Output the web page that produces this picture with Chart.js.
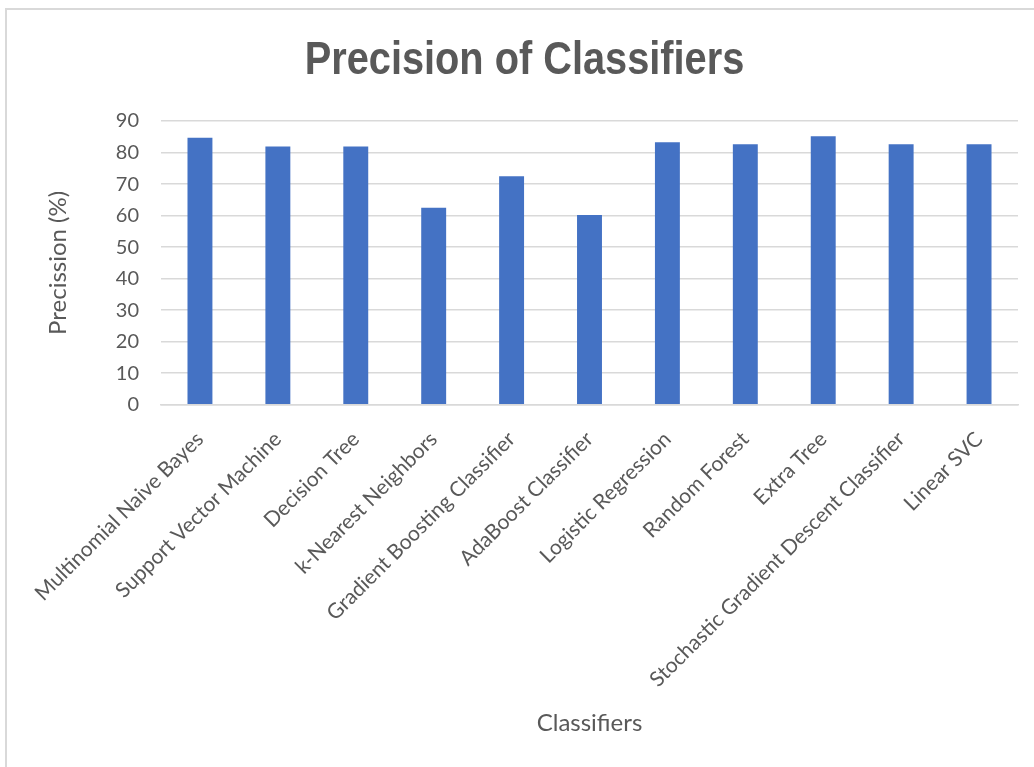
<!DOCTYPE html>
<html>
<head>
<meta charset="utf-8">
<title>Precision of Classifiers</title>
<script src="https://cdn.jsdelivr.net/npm/chart.js@4/dist/chart.umd.min.js"></script>
<style>
  html, body { margin: 0; padding: 0; background: #fff; }
  .frame { position: absolute; left: 5px; top: 8px; width: 1100px; height: 800px;
           border: 2px solid #d9d9d9; box-sizing: border-box; }
  #chartCanvas { position: absolute; left: 0; top: 0; }
</style>
</head>
<body>
<div class="frame"></div>
<canvas id="chartCanvas" width="1034" height="767"></canvas>
<script>
// classifier names along the x axis
const classifiers = [
  'Multinomial Naive Bayes', 'Support Vector Machine', 'Decision Tree',
  'k-Nearest Neighbors', 'Gradient Boosting Classifier', 'AdaBoost Classifier',
  'Logistic Regression', 'Random Forest', 'Extra Tree',
  'Stochastic Gradient Descent Classifier', 'Linear SVC'
];
// precision in percent
const precision = [84.7, 81.9, 81.9, 62.5, 72.5, 60.2, 83.3, 82.6, 85.2, 82.6, 82.6];
const yMin = 0, yMax = 90, yStep = 10;
const chartTitle = 'Precision of Classifiers';

const GREY = '#595959';
const GRID = '#d9d9d9';
const BAR = '#4472c4';

Chart.defaults.font.family = 'Lato, "Open Sans", sans-serif';
Chart.defaults.color = GREY;

// title as its own layout box: no narrow bold face installed,
// so a bold one is squeezed horizontally
const narrowTitle = {
  id: 'narrowTitle',
  beforeInit(chart){
    const box = {
      position: 'top', weight: 2000, fullSize: true, options: {},
      isHorizontal(){ return true; },
      update(maxWidth){ this.width = maxWidth; this.height = 121; },
      draw(){
        const ctx = chart.ctx;
        ctx.save();
        ctx.translate(524.5, this.top + 74);
        ctx.scale(0.864, 1);
        ctx.font = 'bold 46px "Liberation Sans", Arial, sans-serif';
        ctx.fillStyle = GREY;
        ctx.textAlign = 'center';
        ctx.textBaseline = 'alphabetic';
        ctx.fillText(chartTitle, 0, 0);
        ctx.restore();
      }
    };
    Chart.layouts.addBox(chart, box);
  }
};

new Chart(document.getElementById('chartCanvas'), {
  type: 'bar',
  data: {
    labels: classifiers,
    datasets: [{
      label: 'Precision',
      data: precision,
      backgroundColor: BAR,
      borderWidth: 0,
      categoryPercentage: 1,
      barPercentage: 0.32
    }]
  },
  plugins: [narrowTitle],
  options: {
    responsive: false,
    animation: false,
    devicePixelRatio: 1,
    layout: { padding: { left: 30, right: 16, top: 0, bottom: 20 } },
    plugins: {
      legend: { display: false },
      tooltip: { enabled: false },
      title: { display: false }
    },
    scales: {
      x: {
        grid: { display: false },
        border: { color: GRID, width: 1.5 },
        ticks: {
          color: GREY,
          font: { size: 21 },
          minRotation: 45,
          maxRotation: 45,
          autoSkip: false,
          padding: 14
        },
        title: {
          display: true,
          text: 'Classifiers',
          color: GREY,
          font: { size: 24 },
          padding: { top: 3, bottom: 9 }
        }
      },
      y: {
        min: yMin,
        max: yMax,
        border: { display: false },
        grid: { color: GRID, lineWidth: 1.5, drawTicks: false },
        ticks: { stepSize: yStep, color: GREY, font: { size: 20 }, padding: 22 },
        title: {
          display: true,
          text: 'Precission (%)',
          color: GREY,
          font: { size: 24 },
          padding: { top: 14, bottom: 21 }
        }
      }
    }
  }
});
</script>
</body>
</html>
